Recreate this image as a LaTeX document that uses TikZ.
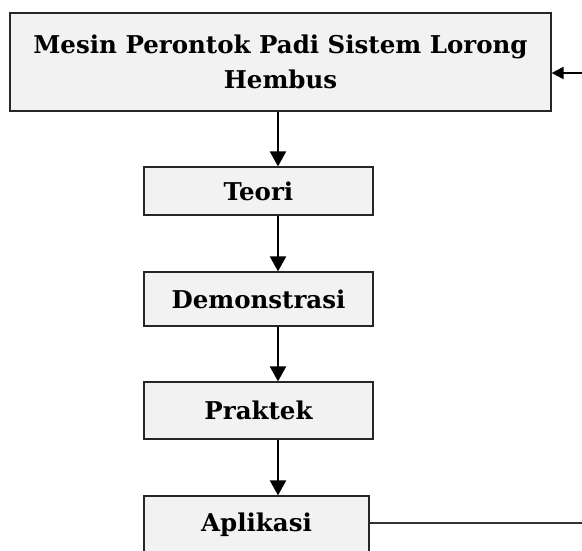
\documentclass[tikz,border=0pt]{standalone}
\usepackage{fontspec}
\setmainfont{DejaVu Serif}
\usetikzlibrary{arrows.meta}
\tikzset{
  box/.style={draw=black!85, line width=1.2pt, fill=black!5, inner sep=0pt,
    font=\fontsize{24.5}{35}\selectfont\bfseries, align=center},
  flow/.style={line width=2pt, -{Triangle[length=15pt,width=16pt]}},
  back/.style={line width=1.5pt, draw=black!80},
}
\begin{document}
\begin{tikzpicture}[x=1pt,y=-1pt]
\useasboundingbox (0,0) rectangle (582,550);
\clip (0,0) rectangle (582,550);
\fill[white] (0,0) rectangle (582,550);
\node[box, minimum width=541pt, minimum height=98pt] (top) at (280.5,62)
  {Mesin Perontok Padi Sistem Lorong\\Hembus};
\node[box, minimum width=229pt, minimum height=48pt] (teori) at (258.5,191) {Teori};
\node[box, minimum width=229pt, minimum height=54pt] (demo) at (258.5,299) {Demonstrasi};
\node[box, minimum width=229pt, minimum height=57pt] (praktek) at (258.5,410.5) {Praktek};
\node[box, minimum width=225pt, minimum height=57pt] (apl) at (256.5,524.5) {Aplikasi};
\coordinate (col) at (278,0);
\coordinate (rin) at (582,73);
\coordinate (rout) at (582,523);
\draw[flow] (top.south -| col) -- (teori.north -| col);
\draw[flow] (teori.south -| col) -- (demo.north -| col);
\draw[flow] (demo.south -| col) -- (praktek.north -| col);
\draw[flow] (praktek.south -| col) -- (apl.north -| col);
\draw[back] (apl.east |- rout) -- (rout);
\draw[flow, -{Triangle[length=12pt,width=12pt]}] (rin) -- (rin -| top.east);
\end{tikzpicture}
\end{document}
